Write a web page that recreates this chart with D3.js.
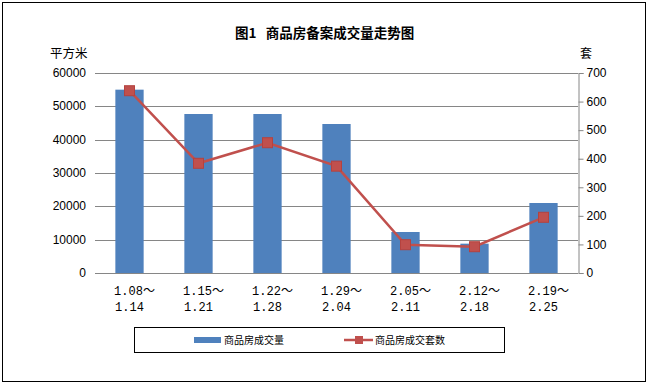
<!DOCTYPE html>
<html>
<head>
<meta charset="utf-8">
<script src="https://cdn.jsdelivr.net/npm/d3@7"></script>
<style>
  body { margin: 0; background: #fff; }
</style>
</head>
<body>
<script>
// chart data
var weeksTop = ["1.08～", "1.15～", "1.22～", "1.29～", "2.05～", "2.12～", "2.19～"];
var weeksBottom = ["1.14", "1.21", "1.28", "2.04", "2.11", "2.18", "2.25"];
var area = [55000, 47700, 47700, 44700, 12300, 8800, 21000];
var units = [638, 384, 456, 374, 99, 92, 195];
var leftTicks = [0, 10000, 20000, 30000, 40000, 50000, 60000];
var rightTicks = [0, 100, 200, 300, 400, 500, 600, 700];

var width = 648, height = 384;
var plot = { left: 95, right: 578, top: 73, bottom: 273 };
var sansFont = "Liberation Sans, Arial, sans-serif";
var cjkFont = "Noto Sans CJK SC, sans-serif";
var monoFont = "Liberation Mono, Noto Sans CJK SC, monospace";

// Add svg
var svg = d3.select("body").append("svg")
  .attr("width", width)
  .attr("height", height);

// outer frame
svg.append("rect")
  .attr("x", 2.5).attr("y", 2.5)
  .attr("width", 643).attr("height", 379)
  .attr("fill", "#fff")
  .attr("stroke", "#000")
  .attr("stroke-width", 1);

var x = d3.scaleBand()
  .domain(d3.range(weeksTop.length))
  .range([plot.left, plot.right])
  .paddingInner(0.59)
  .paddingOuter(0.295);

var yLeft = d3.scaleLinear().domain([0, 60000]).range([plot.bottom, plot.top]);
var yRight = d3.scaleLinear().domain([0, 700]).range([plot.bottom, plot.top]);

// gridlines
svg.append("g")
  .selectAll("line")
  .data(leftTicks)
  .join("line")
  .attr("x1", plot.left).attr("x2", plot.right)
  .attr("y1", d => Math.round(yLeft(d)) + 0.5)
  .attr("y2", d => Math.round(yLeft(d)) + 0.5)
  .attr("stroke", "#868686");

// left axis labels
svg.append("g")
  .selectAll("text")
  .data(leftTicks)
  .join("text")
  .attr("x", 86)
  .attr("y", d => yLeft(d) + 4)
  .attr("text-anchor", "end")
  .style("font-family", sansFont)
  .style("font-size", "12px")
  .text(d => d);

// right axis
var rightAxis = svg.append("g")
  .attr("transform", "translate(" + (plot.right + 0.5) + ",0)")
  .call(d3.axisRight(yRight).tickValues(rightTicks).tickSize(5).tickPadding(3));
rightAxis.select(".domain").attr("stroke", "#868686");
rightAxis.selectAll(".tick line").attr("stroke", "#868686");
rightAxis.selectAll(".tick text")
  .attr("fill", "#000")
  .style("font-size", "12px")
  .style("font-family", sansFont);

// bars
svg.append("g")
  .selectAll("rect")
  .data(area)
  .join("rect")
  .attr("x", (d, i) => x(i))
  .attr("y", d => yLeft(d))
  .attr("width", x.bandwidth())
  .attr("height", d => yLeft(0) - yLeft(d))
  .attr("fill", "#4F81BD");

// line
var line = d3.line()
  .x((d, i) => x(i) + x.bandwidth() / 2)
  .y(d => yRight(d));

svg.append("path")
  .datum(units)
  .attr("d", line)
  .attr("fill", "none")
  .attr("stroke", "#C0504D")
  .attr("stroke-width", 2.5);

svg.append("g")
  .selectAll("rect")
  .data(units)
  .join("rect")
  .attr("x", (d, i) => x(i) + x.bandwidth() / 2 - 5)
  .attr("y", d => yRight(d) - 5)
  .attr("width", 10)
  .attr("height", 10)
  .attr("fill", "#C0504D")
  .attr("stroke", "#B5423F")
  .attr("stroke-width", 1);

// x labels
var xl = svg.append("g");
xl.selectAll("text.top")
  .data(weeksTop)
  .join("text")
  .attr("class", "top")
  .attr("x", (d, i) => x(i) + x.bandwidth() / 2 + 5)
  .attr("y", 295)
  .attr("text-anchor", "middle")
  .style("font-family", monoFont)
  .style("font-size", "12px")
  .text(d => d);
xl.selectAll("text.bot")
  .data(weeksBottom)
  .join("text")
  .attr("class", "bot")
  .attr("x", (d, i) => x(i) + x.bandwidth() / 2)
  .attr("y", 311)
  .attr("text-anchor", "middle")
  .style("font-family", monoFont)
  .style("font-size", "12px")
  .text(d => d);

// title and axis units
svg.append("text")
  .attr("x", 235).attr("y", 38)
  .style("font-size", "13.5px")
  .style("font-weight", "bold")
  .style("font-family", cjkFont)
  .style("white-space", "pre")
  .text("图1   商品房备案成交量走势图");

svg.append("text")
  .attr("x", 50).attr("y", 58)
  .style("font-size", "12.5px")
  .style("font-family", cjkFont)
  .text("平方米");

svg.append("text")
  .attr("x", 580).attr("y", 58)
  .style("font-size", "12px")
  .style("font-family", cjkFont)
  .text("套");

// legend
var legend = svg.append("g");
legend.append("rect")
  .attr("x", 134.5).attr("y", 327.5)
  .attr("width", 370).attr("height", 25)
  .attr("fill", "#fff")
  .attr("stroke", "#000");
legend.append("rect")
  .attr("x", 194).attr("y", 337)
  .attr("width", 27).attr("height", 6)
  .attr("fill", "#4F81BD");
legend.append("text")
  .attr("x", 224).attr("y", 344)
  .style("font-size", "10px")
  .style("font-family", cjkFont)
  .text("商品房成交量");
legend.append("line")
  .attr("x1", 344).attr("x2", 373)
  .attr("y1", 340).attr("y2", 340)
  .attr("stroke", "#C0504D")
  .attr("stroke-width", 2.5);
legend.append("rect")
  .attr("x", 355).attr("y", 336)
  .attr("width", 8).attr("height", 8)
  .attr("fill", "#C0504D");
legend.append("text")
  .attr("x", 375).attr("y", 344)
  .style("font-size", "10px")
  .style("font-family", cjkFont)
  .text("商品房成交套数");
</script>
</body>
</html>
